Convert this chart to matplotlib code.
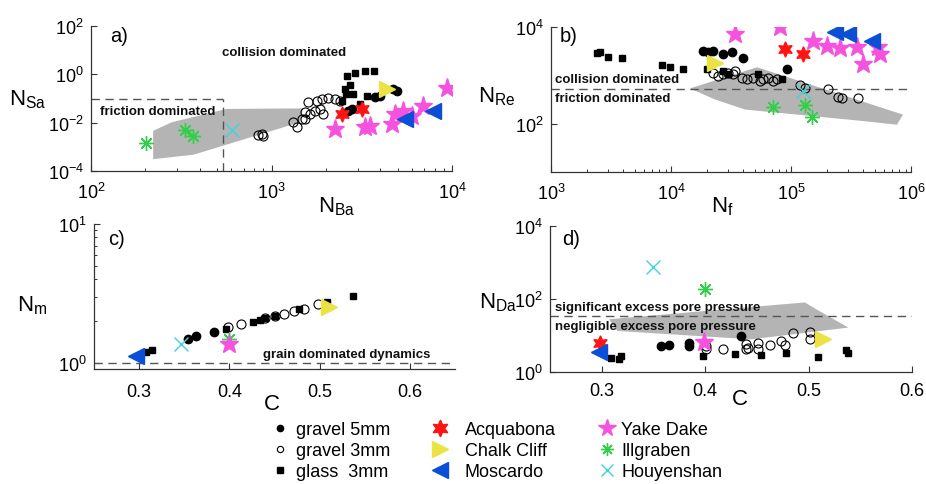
import numpy as np
import matplotlib
matplotlib.use('Agg')
import matplotlib.pyplot as plt
from matplotlib.lines import Line2D
from matplotlib.ticker import LogLocator, NullLocator

plt.rcParams['font.family'] = ['Liberation Sans', 'DejaVu Sans']
plt.rcParams['mathtext.fontset'] = 'custom'
plt.rcParams['mathtext.rm'] = 'Liberation Sans'
plt.rcParams['mathtext.it'] = 'Liberation Sans:italic'
plt.rcParams['mathtext.bf'] = 'Liberation Sans:bold'

# ---- a) Savage number vs Bagnold number ----
gravel5_a_x = [2654, 2793, 3744, 3991, 4713, 4959]
gravel5_a_y = [0.030, 0.037, 0.115, 0.127, 0.247, 0.204]
gravel3_a_x = [841, 886, 897, 1316, 1385, 1475, 1534, 1534, 1594, 1635, 1742, 1786,
               1857, 1905, 1928, 2056, 2249, 2398]
gravel3_a_y = [0.0031, 0.0034, 0.0028, 0.0107, 0.0066, 0.014, 0.014, 0.028, 0.072, 0.023,
               0.030, 0.079, 0.037, 0.095, 0.023, 0.105, 0.095, 0.079]
glass_a_x = [2620, 2904, 3296, 3697, 2554, 2722, 2587, 2830, 3383, 3093, 2459]
glass_a_y = [0.85, 1.13, 1.37, 1.37, 0.25, 0.36, 0.15, 0.15, 0.13, 0.059, 0.079]
acqua_a_x, acqua_a_y = [2459, 3171], [0.0228, 0.037]
chalk_a_x, chalk_a_y = [4365], [0.247]
mosc_a_x, mosc_a_y = [5495, 7850], [0.0142, 0.030]
yake_a_x = [2249, 3296, 3515, 4652, 4830, 5353, 6000, 6906, 9380]
yake_a_y = [0.0055, 0.0066, 0.0073, 0.0088, 0.0228, 0.030, 0.0189, 0.049, 0.28]
illg_a_x, illg_a_y = [201, 332, 369], [0.0014, 0.005, 0.0029]
houy_a_x, houy_a_y = [607], [0.005]
field_a_x = [221, 280, 565, 1495, 1438, 369, 221]
field_a_y = [0.0046, 0.0104, 0.037, 0.039, 0.0104, 0.00047, 0.00031]
nba_limit, nsa_limit = 540, 0.1

# ---- b) Reynolds number vs friction number ----
glass_b_x = [2404, 2560, 3003, 3927, 8363, 9811, 12660, 19840, 27290, 30030, 53420, 83600]
glass_b_y = [2874, 3056, 2452, 2337, 1640, 1489, 1334, 1334, 1230, 1049, 1049, 826]
gravel5_b_x = [18580, 20460, 22520, 27290, 32040, 40060, 92050]
gravel5_b_y = [3210, 2970, 3120, 2740, 2970, 2260, 1334]
gravel3_b_x = [22520, 24780, 27290, 30030, 33050, 34140, 38830, 42740, 48500, 55180,
               58770, 64730, 71230, 76040, 118900, 130800, 204600, 247800, 264600, 363600]
gravel3_b_y = [1138, 966, 1049, 1138, 1049, 1230, 896, 826, 896, 761,
               826, 896, 761, 826, 619, 555, 511, 360, 343, 332]
chalk_b_x, chalk_b_y = [23280], [1840]
acqua_b_x, acqua_b_y = [89130, 126700], [3480, 2740]
mosc_b_x, mosc_b_y = [232600, 300300, 470600], [7760, 7150, 5180]
yake_b_x = [34140, 80910, 153400, 198600, 255900, 352900, 534300, 552000, 400600]
yake_b_y = [7150, 9860, 5180, 4080, 3600, 3780, 3780, 2740, 1690]
illg_b_x, illg_b_y = [70400, 130800, 150500], [223, 249, 138]
houy_b_x, houy_b_y = [126700], [471]
field_b_x = [14400, 52100, 857000, 764000, 376000, 41400, 23300]
field_b_y = [536, 1468, 154, 95, 115, 196, 316]
nre_limit = 530

# ---- c) mass number vs concentration ----
glass_c_x = [0.3071, 0.3146, 0.3966, 0.4265, 0.434, 0.4396, 0.4508, 0.4769, 0.5083, 0.5366]
glass_c_y = [1.19, 1.23, 1.76, 1.96, 2.05, 2.10, 2.19, 2.45, 2.75, 3.05]
gravel5_c_x, gravel5_c_y = [0.3537, 0.363, 0.3829], [1.49, 1.56, 1.68]
gravel3_c_x = [0.3985, 0.4134, 0.4396, 0.4508, 0.460, 0.4713, 0.4825, 0.4985]
gravel3_c_y = [1.81, 1.91, 2.10, 2.19, 2.25, 2.38, 2.45, 2.66]
chalk_c_x, chalk_c_y = [0.5105], [2.52]
mosc_c_x, mosc_c_y = [0.296], [1.13]
houy_c_x, houy_c_y = [0.346], [1.37]
illg_c_x, illg_c_y = [0.4], [1.49]
yake_c_x, yake_c_y = [0.4], [1.37]
nm_limit = 1.0

# ---- d) Darcy number vs concentration ----
glass_d_x = [0.3087, 0.3168, 0.3184, 0.3978, 0.4291, 0.4544, 0.4786, 0.5094, 0.5359, 0.5385]
glass_d_y = [2.46, 2.21, 2.72, 2.72, 3.03, 2.85, 3.38, 2.62, 3.98, 3.23]
gravel5_d_x = [0.3573, 0.3653, 0.3848, 0.3848, 0.435]
gravel5_d_y = [5.14, 5.37, 6.37, 5.14, 9.68]
gravel3_d_x = [0.401, 0.401, 0.4172, 0.4398, 0.4398, 0.4414, 0.4512, 0.4512, 0.4624,
               0.4738, 0.477, 0.4851, 0.5013, 0.5013]
gravel3_d_y = [4.17, 5.14, 4.17, 5.72, 4.17, 4.6, 6.37, 4.17, 5.37,
               7.05, 5.37, 12.0, 12.5, 8.22]
chalk_d_x, chalk_d_y = [0.5143], [7.86]
acqua_d_x, acqua_d_y = [0.2983], [6.1]
mosc_d_x, mosc_d_y = [0.2974], [3.51]
yake_d_x, yake_d_y = [0.3993], [6.62]
illg_d_x, illg_d_y = [0.4], [187]
houy_d_x, houy_d_y = [0.35], [742]
field_d_x = [0.3071, 0.4964, 0.5061, 0.5385, 0.4447, 0.3152]
field_d_y = [27.9, 80.6, 55, 16.5, 7.86, 13.3]
nda_limit = 34

# marker styles shared by all panels
red, yellow, blue = '#ff1414', '#ebe343', '#0b4fd6'
magenta, green, cyan = '#f552de', '#33cf4a', '#3fd3dc'
shade = '#b4b4b4'
styles = {
    'gravel5': dict(marker='o', mfc='black', mec='black', ms=6),
    'gravel3': dict(marker='o', mfc='none', mec='black', ms=6.5, mew=0.8),
    'glass': dict(marker='s', mfc='black', mec='black', ms=4.8),
    'acqua': dict(marker=(6, 1, 0), mfc=red, mec=red, ms=11),
    'chalk': dict(marker='>', mfc=yellow, mec=yellow, ms=11),
    'mosc': dict(marker='<', mfc=blue, mec=blue, ms=12),
    'yake': dict(marker='*', mfc=magenta, mec=magenta, ms=14),
    'illg': dict(marker=(8, 2, 0), mfc=green, mec=green, ms=10.5, mew=1.0),
    'houy': dict(marker='x', mfc=cyan, mec=cyan, ms=10, mew=1.0),
}


def draw(ax, key, x, y):
    ax.plot(x, y, ls='none', zorder=3, **styles[key])


W, H = 926, 485
fig = plt.figure(figsize=(W / 100, H / 100), dpi=100)


def place(left, top, right, bottom):
    return [left / W, 1 - bottom / H, (right - left) / W, (bottom - top) / H]


def fxy(px, py):
    return px / W, 1 - py / H


def style_axes(ax):
    for s in ['top', 'right']:
        ax.spines[s].set_visible(False)
    for s in ['left', 'bottom']:
        ax.spines[s].set_color('#333333')
        ax.spines[s].set_linewidth(0.9)
    ax.tick_params(which='both', direction='in', color='#333333', labelsize=13)
    ax.tick_params(which='major', length=4.5, width=0.8)
    ax.tick_params(which='minor', length=2.5, width=0.7)
    ax.tick_params(axis='x', pad=8)
    ax.tick_params(axis='y', pad=5)


dash = dict(color='#555555', lw=1.0, dashes=(6, 4), zorder=2)
note = dict(fontsize=9.5, fontweight='bold', ha='left', va='center', color='#111111')

# a)
ax = fig.add_axes(place(91, 27, 452, 172))
ax.set_xscale('log')
ax.set_yscale('log')
ax.set_xlim(1e2, 1e4)
ax.set_ylim(1e-4, 1e2)
ax.set_yticks([1e-4, 1e-2, 1e0, 1e2])
ax.yaxis.set_minor_locator(NullLocator())
ax.fill(field_a_x, field_a_y, color=shade, lw=0, zorder=1)
ax.plot([1e2, nba_limit], [nsa_limit, nsa_limit], **dash)
ax.plot([nba_limit, nba_limit], [1e-4, nsa_limit], **dash)
draw(ax, 'gravel3', gravel3_a_x, gravel3_a_y)
draw(ax, 'glass', glass_a_x, glass_a_y)
draw(ax, 'gravel5', gravel5_a_x, gravel5_a_y)
draw(ax, 'yake', yake_a_x, yake_a_y)
draw(ax, 'acqua', acqua_a_x, acqua_a_y)
draw(ax, 'chalk', chalk_a_x, chalk_a_y)
draw(ax, 'mosc', mosc_a_x, mosc_a_y)
draw(ax, 'illg', illg_a_x, illg_a_y)
draw(ax, 'houy', houy_a_x, houy_a_y)
style_axes(ax)

# b)
ax = fig.add_axes(place(551, 28, 911, 173))
ax.set_xscale('log')
ax.set_yscale('log')
ax.set_xlim(1e3, 1e6)
ax.set_ylim(1e1, 1e4)
ax.set_yticks([1e2, 1e4])
ax.yaxis.set_minor_locator(NullLocator())
ax.fill(field_b_x, field_b_y, color=shade, lw=0, zorder=1)
ax.axhline(nre_limit, **dash)
draw(ax, 'gravel3', gravel3_b_x, gravel3_b_y)
draw(ax, 'glass', glass_b_x, glass_b_y)
draw(ax, 'gravel5', gravel5_b_x, gravel5_b_y)
draw(ax, 'yake', yake_b_x, yake_b_y)
draw(ax, 'acqua', acqua_b_x, acqua_b_y)
draw(ax, 'chalk', chalk_b_x, chalk_b_y)
draw(ax, 'mosc', mosc_b_x, mosc_b_y)
draw(ax, 'illg', illg_b_x, illg_b_y)
draw(ax, 'houy', houy_b_x, houy_b_y)
style_axes(ax)

# c)
ax = fig.add_axes(place(94, 225, 455, 370))
ax.set_yscale('log')
ax.set_xlim(0.25, 0.65)
ax.set_ylim(0.905, 10)
ax.set_xticks([0.3, 0.4, 0.5, 0.6])
ax.set_yticks([1, 10])
ax.yaxis.set_minor_locator(LogLocator(base=10, subs=np.arange(2, 10)))
ax.axhline(nm_limit, **dash)
draw(ax, 'gravel3', gravel3_c_x, gravel3_c_y)
draw(ax, 'glass', glass_c_x, glass_c_y)
draw(ax, 'gravel5', gravel5_c_x, gravel5_c_y)
draw(ax, 'chalk', chalk_c_x, chalk_c_y)
draw(ax, 'mosc', mosc_c_x, mosc_c_y)
draw(ax, 'illg', illg_c_x, illg_c_y)
draw(ax, 'yake', yake_c_x, yake_c_y)
draw(ax, 'houy', houy_c_x, houy_c_y)
style_axes(ax)
ax.tick_params(axis='x', pad=10)

# d)
ax = fig.add_axes(place(550, 227, 912, 373))
ax.set_yscale('log')
ax.set_xlim(0.25, 0.6)
ax.set_ylim(1, 1e4)
ax.set_xticks([0.3, 0.4, 0.5, 0.6])
ax.set_yticks([1, 1e2, 1e4])
ax.yaxis.set_minor_locator(NullLocator())
ax.fill(field_d_x, field_d_y, color=shade, lw=0, zorder=1)
ax.axhline(nda_limit, **dash)
draw(ax, 'gravel3', gravel3_d_x, gravel3_d_y)
draw(ax, 'glass', glass_d_x, glass_d_y)
draw(ax, 'gravel5', gravel5_d_x, gravel5_d_y)
draw(ax, 'acqua', acqua_d_x, acqua_d_y)
draw(ax, 'mosc', mosc_d_x, mosc_d_y)
draw(ax, 'chalk', chalk_d_x, chalk_d_y)
draw(ax, 'yake', yake_d_x, yake_d_y)
draw(ax, 'illg', illg_d_x, illg_d_y)
draw(ax, 'houy', houy_d_x, houy_d_y)
style_axes(ax)
ax.tick_params(axis='x', pad=7)

# axis labels
lab = dict(fontsize=16, ha='center', va='center')
fig.text(*fxy(28, 100), r'$\mathregular{N_{Sa}}$', **lab)
fig.text(*fxy(337, 207), r'$\mathregular{N_{Ba}}$', **lab)
fig.text(*fxy(497, 97), r'$\mathregular{N_{Re}}$', **lab)
fig.text(*fxy(722, 207), r'$\mathregular{N_{f}}$', **lab)
fig.text(*fxy(32, 306), r'$\mathregular{N_{m}}$', **lab)
fig.text(*fxy(272, 405), 'C', **lab)
fig.text(*fxy(498, 303), r'$\mathregular{N_{Da}}$', **lab)
fig.text(*fxy(740, 400), 'C', **lab)

# panel letters
for letter, (px, py) in zip(['a)', 'b)', 'c)', 'd)'],
                            [(110, 37), (560, 37), (108, 240), (562, 240)]):
    fig.text(*fxy(px, py), letter, fontsize=14.5, ha='left', va='center')

# regime annotations
fig.text(*fxy(222, 53), 'collision dominated', **note)
fig.text(*fxy(100, 112), 'friction dominated', **note)
fig.text(*fxy(555, 80), 'collision dominated', **note)
fig.text(*fxy(555, 99), 'friction dominated', **note)
fig.text(*fxy(263, 355), 'grain dominated dynamics', **note)
fig.text(*fxy(555, 308), 'significant excess pore pressure', **note)
fig.text(*fxy(555, 327), 'negligible excess pore pressure', **note)


# legend, one column at a time
def handle(key, ms):
    st = dict(styles[key])
    st['ms'] = ms
    return Line2D([], [], ls='none', **st)


legend_cols = [
    ([handle('gravel5', 4.5), handle('gravel3', 4.5), handle('glass', 4)],
     ['gravel 5mm', 'gravel 3mm', 'glass  3mm'], 271, 1.0, 0.4),
    ([handle('acqua', 12), handle('chalk', 12), handle('mosc', 12)],
     ['Acquabona', 'Chalk Cliff', 'Moscardo'], 427, 1.4, 0.7),
    ([handle('yake', 13), handle('illg', 9), handle('houy', 8)],
     ['Yake Dake', 'Illgraben', 'Houyenshan'], 598, 1.0, 0.3),
]
for handles, labels, left, hl, pad in legend_cols:
    fig.legend(handles, labels, loc='upper left', bbox_to_anchor=fxy(left, 422),
               frameon=False, borderpad=0, borderaxespad=0, fontsize=13,
               handlelength=hl, handletextpad=pad, labelspacing=0.22)

fig.savefig('out.png', dpi=100)
